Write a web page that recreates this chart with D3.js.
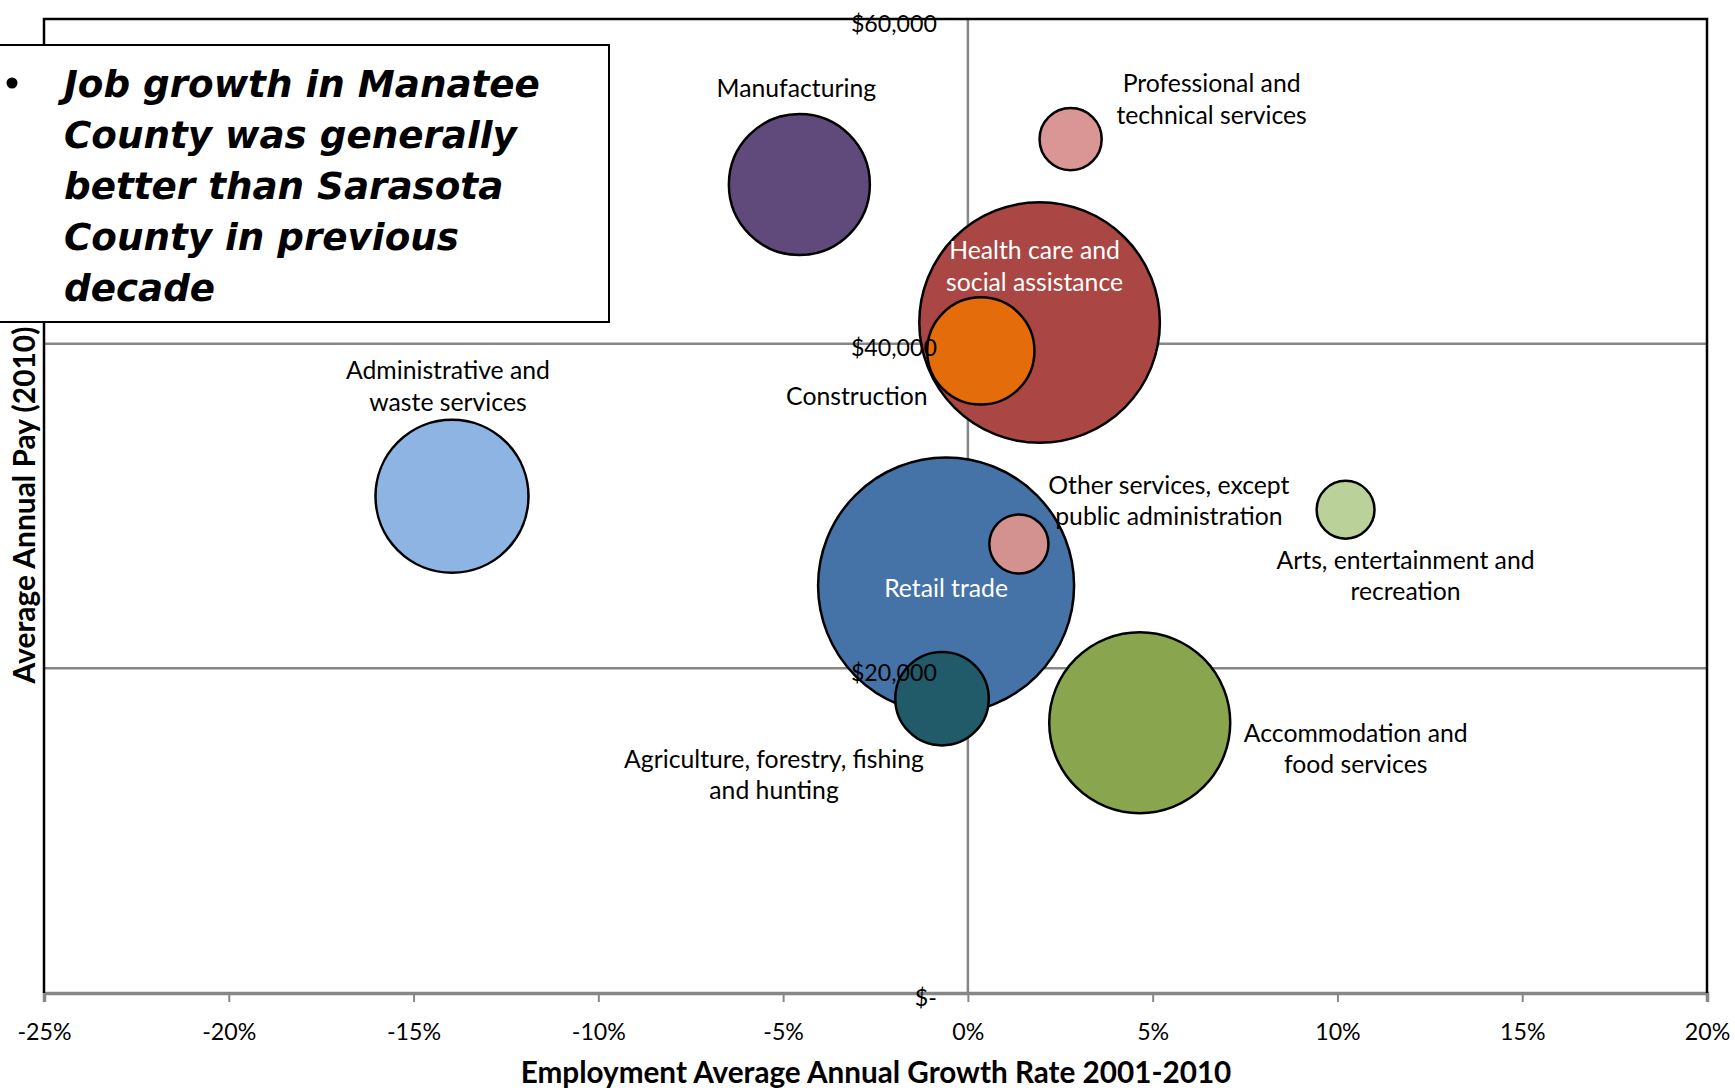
<!DOCTYPE html>
<html><head><meta charset="utf-8">
<script src="https://cdn.jsdelivr.net/npm/d3@7"></script>
<style>body{margin:0;background:#fff;} svg{display:block}</style>
</head><body><svg id="c" width="1735" height="1090"></svg>
<script>
// ---- data ----
const categories = ["Retail trade","Health care and social assistance","Accommodation and food services","Administrative and waste services","Manufacturing","Construction","Agriculture, forestry, fishing and hunting","Professional and technical services","Other services, except public administration","Arts, entertainment and recreation"];
const growthRate = [-0.59, 1.94, 4.65, -13.96, -4.56, 0.35, -0.70, 2.78, 1.38, 10.22];
const avgPay = [25100, 41300, 16650, 30600, 49800, 39550, 18130, 52600, 27660, 29770];
const employment = [18000, 15900, 9000, 6430, 5460, 3160, 2400, 1060, 960, 920];
const labelLines = [["Retail trade"],["Health care and","social assistance"],["Accommodation and","food services"],["Administrative and","waste services"],["Manufacturing"],["Construction"],["Agriculture, forestry, fishing","and hunting"],["Professional and","technical services"],["Other services, except","public administration"],["Arts, entertainment and","recreation"]];
const xTicks = [-25,-20,-15,-10,-5,0,5,10,15,20];
const yTicks = [0,20000,40000,60000];
const noteLines = ["Job growth in Manatee","County was generally","better than Sarasota","County in previous","decade"];
const xTitle = "Employment Average Annual Growth Rate 2001-2010";
const yTitle = "Average Annual Pay (2010)";

// ---- styles / layout ----
const colors = ["#4572A7","#AA4643","#89A54E","#8EB4E3","#604A7B","#E46C0A","#215A68","#D99694","#D3918F","#BBD19A"];
const labelFill = ["#fff","#fff","#000","#000","#000","#000","#000","#000","#000","#000"];
const labelOffset = [[0,3],[-5,-56],[216,26],[-4,-110],[-3,-96],[-124,45],[-168,76],[141,-40],[150,-43],[60,66]];

const svg = d3.select("#c");
const L=44, R=1707, T=19, B=993;
const x = d3.scaleLinear().domain([-25,20]).range([L,R]);
const y = d3.scaleLinear().domain([0,60000]).range([B,T]);
const r = d3.scaleSqrt().domain([0,18000]).range([0,128]);

function fitSize(family, weight, style, text, target){
  const t = svg.append("text").attr("font-family",family).attr("font-weight",weight)
    .attr("font-style",style).attr("font-size",100).text(text);
  const w = t.node().getComputedTextLength(); t.remove();
  return 100*target/w;
}
const LF = "Lato, 'Open Sans', sans-serif";
const labelSize = fitSize(LF,"normal","normal","Administrative and",204);
const tickSize = fitSize(LF,"normal","normal","$60,000",86);

// gridlines
svg.append("g").selectAll("line").data([20000,40000]).join("line")
  .attr("x1",L).attr("x2",R).attr("y1",d=>y(d)).attr("y2",d=>y(d))
  .attr("stroke","#878787").attr("stroke-width",2.5);
svg.append("line").attr("x1",x(0)).attr("x2",x(0)).attr("y1",T).attr("y2",B)
  .attr("stroke","#878787").attr("stroke-width",2.5);

// x axis
const xa = svg.append("g").attr("transform",`translate(0,${B})`)
  .call(d3.axisBottom(x).tickValues(xTicks).tickSize(9).tickFormat(d=>d+"%"));
xa.select(".domain").attr("stroke","#878787").attr("stroke-width",3.5);
xa.selectAll(".tick line").attr("stroke","#878787").attr("stroke-width",2);
xa.selectAll(".tick text").attr("y",39).attr("dy","0.35em")
  .attr("font-family",LF).attr("font-size",tickSize).attr("fill","#000");

// plot border (left, top, right)
svg.append("path").attr("d",`M${L},${B}V${T}H${R}V${B}`).attr("fill","none")
  .attr("stroke","#000").attr("stroke-width",2.5);

// bubbles
const idx = d3.range(categories.length).sort((a,b)=>employment[b]-employment[a]);
svg.append("g").selectAll("circle").data(idx).join("circle")
  .attr("cx",i=>x(growthRate[i])).attr("cy",i=>y(avgPay[i])).attr("r",i=>r(employment[i]))
  .attr("fill",i=>colors[i]).attr("stroke","#000").attr("stroke-width",2.5);

// y axis labels (on top)
const ya = svg.append("g").attr("transform",`translate(${x(0)},0)`)
  .call(d3.axisLeft(y).tickValues(yTicks).tickSize(0).tickPadding(31)
    .tickFormat(d=>d===0?"$-":"$"+d3.format(",")(d)));
ya.select(".domain").remove();
ya.selectAll(".tick text").attr("dy","0.35em").attr("transform","translate(0,4)")
  .attr("font-family",LF).attr("font-size",tickSize).attr("fill","#000");

// bubble labels
const lh = 31.5;
const lg = svg.append("g");
idx.forEach(i=>{
  const cx = x(growthRate[i])+labelOffset[i][0];
  const cy = y(avgPay[i])+labelOffset[i][1];
  const n = labelLines[i].length;
  labelLines[i].forEach((s,k)=>{
    lg.append("text").attr("x",cx).attr("y",cy+(k-(n-1)/2)*lh).attr("dy","0.35em")
      .attr("text-anchor","middle").attr("font-family",LF).attr("font-size",labelSize)
      .attr("fill",labelFill[i]).text(s);
  });
});

// axis titles
const xts = fitSize(LF,"bold","normal",xTitle,711);
svg.append("text").attr("x",876).attr("y",1073).attr("dy","0.35em").attr("text-anchor","middle")
  .attr("font-family",LF).attr("font-weight","bold").attr("font-size",xts).text(xTitle);
const yts = fitSize(LF,"bold","normal",yTitle,357);
svg.append("text").attr("transform","translate(25,505) rotate(-90)").attr("dy","0.35em")
  .attr("text-anchor","middle").attr("font-family",LF).attr("font-weight","bold")
  .attr("font-size",yts).text(yTitle);

// note box
svg.append("rect").attr("x",-2).attr("y",45).attr("width",611).attr("height",277)
  .attr("fill","#fff").attr("stroke","#000").attr("stroke-width",2);
const NF = "'DejaVu Sans', 'Open Sans', sans-serif";
const ns = fitSize(NF,"bold","italic",noteLines[0],476);
svg.append("circle").attr("cx",12).attr("cy",83).attr("r",5.5).attr("fill","#000");
noteLines.forEach((s,k)=>{
  svg.append("text").attr("x",64).attr("y",97+k*51).attr("font-family",NF)
    .attr("font-weight","bold").attr("font-style","italic").attr("font-size",ns).text(s);
});
</script></body></html>
